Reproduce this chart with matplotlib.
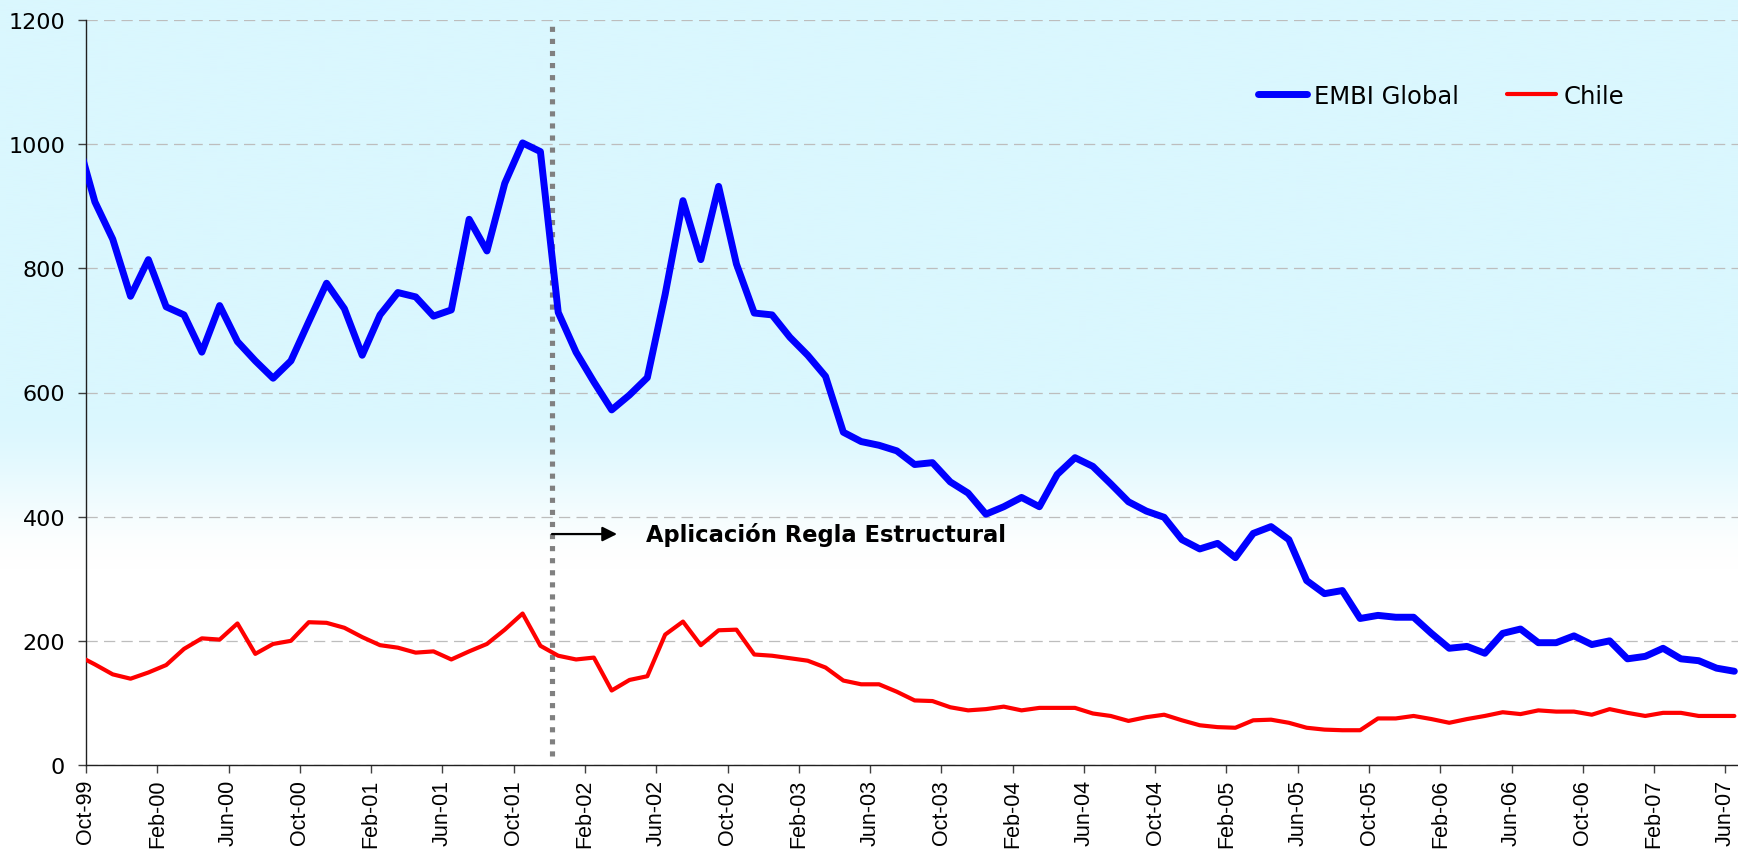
import numpy as np
import matplotlib
matplotlib.use("Agg")
import matplotlib.pyplot as plt
from matplotlib.colors import LinearSegmentedColormap

plt.rcParams['font.family'] = ['Liberation Sans', 'DejaVu Sans']
WIDE_FONT = ['DejaVu Sans']

# ---------------- data (monthly, Sep-99 .. Jun-07) ----------------
embi_global = [
    1009, 907, 847, 755,                                              # Sep-Dec 1999
    814, 738, 725, 665, 740, 682, 651, 623, 651, 714, 776, 735,       # 2000
    660, 725, 761, 754, 723, 733, 879, 828, 937, 1002, 988, 729,      # 2001
    665, 617, 572, 596, 624, 758, 909, 814, 932, 807, 728, 725,       # 2002
    689, 660, 626, 536, 521, 515, 506, 484, 487, 456, 438, 404,       # 2003
    416, 431, 416, 468, 495, 481, 453, 424, 409, 399, 363, 348,       # 2004
    357, 334, 373, 384, 363, 297, 276, 281, 236, 241, 238, 238,       # 2005
    212, 188, 191, 180, 212, 219, 197, 197, 208, 194, 200, 171,       # 2006
    175, 188, 171, 168, 156, 151,                                     # 2007
]
chile = [
    177, 162, 146, 139,
    149, 161, 187, 204, 202, 228, 179, 195, 200, 230, 229, 221,
    206, 193, 189, 181, 183, 170, 183, 195, 218, 244, 192, 176,
    170, 173, 120, 137, 143, 210, 231, 193, 217, 218, 178, 176,
    172, 168, 157, 136, 130, 130, 118, 104, 103, 93, 88, 90,
    94, 88, 92, 92, 92, 83, 79, 71, 77, 81, 72, 64,
    61, 60, 72, 73, 68, 60, 57, 56, 56, 75, 75, 79,
    74, 68, 74, 79, 85, 82, 88, 86, 86, 81, 90, 84,
    79, 84, 84, 79, 79, 79,
]
tick_labels = ['Oct-99', 'Feb-00', 'Jun-00', 'Oct-00', 'Feb-01', 'Jun-01',
               'Oct-01', 'Feb-02', 'Jun-02', 'Oct-02', 'Feb-03', 'Jun-03',
               'Oct-03', 'Feb-04', 'Jun-04', 'Oct-04', 'Feb-05', 'Jun-05',
               'Oct-05', 'Feb-06', 'Jun-06', 'Oct-06', 'Feb-07', 'Jun-07']
series_names = ['EMBI Global', 'Chile']
annotation_text = 'Aplicación Regla Estructural'
regla_month = 26.15      # position of the structural-rule marker (months from Oct-99)
annot_level = 372

# ---------------- figure ----------------
W, H, DPI = 1738, 853, 100
fig = plt.figure(figsize=(W / DPI, H / DPI), dpi=DPI)

# background gradient (cyan top -> white bottom)
bg = fig.add_axes([0, 0, 1, 1], zorder=-10)
yy = np.linspace(0, 1, 400)  # 0 = bottom, 1 = top
lo, hi = 1 - 575 / H, 1 - 405 / H
t = np.clip((yy - lo) / (hi - lo), 0, 1)
t = t * t * (3 - 2 * t)
cmap = LinearSegmentedColormap.from_list('bgc', ['#FFFFFF', '#DAF7FE'])
bg.imshow(t[::-1, None], aspect='auto', cmap=cmap, vmin=0, vmax=1,
          extent=[0, 1, 0, 1], interpolation='bilinear')
bg.set_axis_off()

left = 86 / W
bottom = (H - 766) / H
height = (766 - 21) / H
x_right = 92.75
px_per_month = 17.82
width = x_right * px_per_month / W
ax = fig.add_axes([left, bottom, width, height])
ax.set_facecolor('none')

x = np.arange(len(embi_global)) - 0.5
ax.plot(x, embi_global, color='#0000FF', lw=5.0, solid_capstyle='round',
        solid_joinstyle='round', label=series_names[0], zorder=4)
ax.plot(x, chile, color='#FF0000', lw=3.0, solid_capstyle='round',
        solid_joinstyle='round', label=series_names[1], zorder=4)

ax.set_xlim(0, x_right)
ax.set_ylim(0, 1200)
ax.set_yticks(np.arange(0, 1201, 200))
ax.set_xticks(np.arange(0, 4 * len(tick_labels), 4))
ax.set_xticklabels(tick_labels, rotation=90, fontsize=15.5)
ax.tick_params(axis='y', length=6, width=1, pad=9, color='#404040')
ax.tick_params(axis='x', length=5.5, width=1, pad=4.5, color='#404040')
for lab in ax.get_yticklabels():
    lab.set_family(WIDE_FONT)
    lab.set_fontsize(16)

ax.grid(axis='y', color='#BDBDBD', linestyle=(0, (9, 5)), linewidth=0.9)
ax.set_axisbelow(True)
for s in ['top', 'right']:
    ax.spines[s].set_visible(False)
for s in ['left', 'bottom']:
    ax.spines[s].set_color('#202020')
    ax.spines[s].set_linewidth(1.0)

# vertical dotted marker
ax.plot([regla_month, regla_month], [15, 1195], color='#808080', lw=3.7,
        linestyle=(0, (1.0, 1.35)), dash_capstyle='butt', zorder=3)

# arrow + text
ax.annotate('', xy=(29.8, annot_level), xytext=(regla_month, annot_level),
            arrowprops=dict(arrowstyle='-|>', color='black', lw=1.6,
                            mutation_scale=22, shrinkA=0, shrinkB=0), zorder=5)
ax.text(31.4, annot_level, annotation_text, fontsize=16.3, fontweight='bold',
        family=WIDE_FONT, va='center', ha='left', color='black', zorder=5)

leg = ax.legend(loc='center left', bbox_to_anchor=(1258 / W, 1 - 97 / H),
                bbox_transform=fig.transFigure, ncol=2, frameon=False,
                prop={'family': WIDE_FONT, 'size': 17.5},
                handlelength=2.0, handletextpad=0.3,
                columnspacing=2.0, borderpad=0, borderaxespad=0)

fig.savefig('out.png', dpi=DPI)
